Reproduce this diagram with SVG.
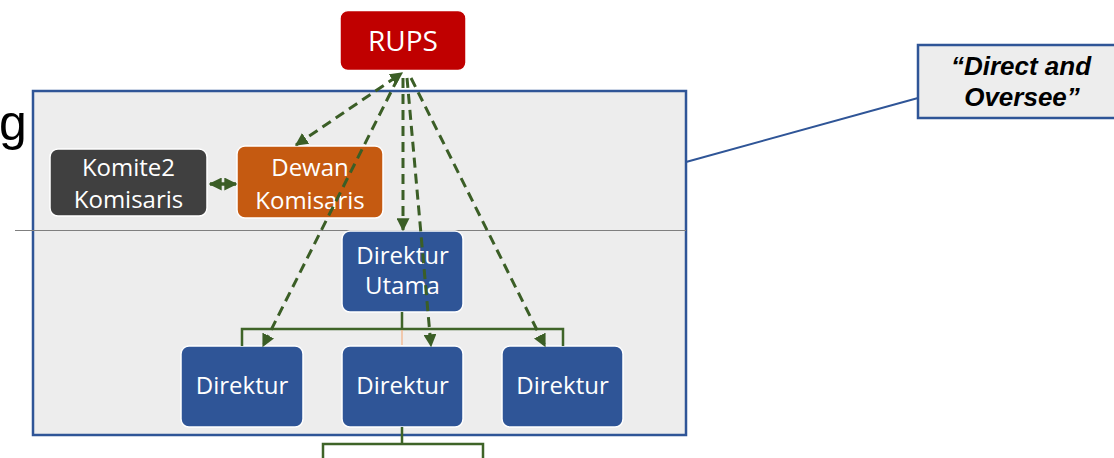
<svg xmlns="http://www.w3.org/2000/svg" width="1114" height="458" viewBox="0 0 1114 458">
<style>
.node text{font-family:"Open Sans","Liberation Sans",sans-serif;font-size:24px;fill:#fff;text-anchor:middle}
.box{stroke:#fff;stroke-width:1.5}
.dash{fill:none;stroke:#3B5E26;stroke-width:3;stroke-dasharray:10 6}
.tree{fill:none;stroke:#3F6428;stroke-width:2.5}
</style>
<defs>
<marker id="ah" viewBox="0 0 10 10" refX="9" refY="5" markerWidth="13" markerHeight="13" markerUnits="userSpaceOnUse" orient="auto-start-reverse">
<path d="M0,0 L10,5 L0,10 z" fill="#3B5E26"/>
</marker>
</defs>
<rect width="1114" height="458" fill="#fff"/>
<text x="-1" y="140" font-family="Liberation Sans, Arial, sans-serif" font-size="50" fill="#000">g</text>
<rect id="frame" x="33" y="91" width="653" height="344" fill="#EDEDED" stroke="#2F5597" stroke-width="2.5"/>
<line x1="15" y1="230.5" x2="686" y2="230.5" stroke="#7F7F7F" stroke-width="1.2"/>
<g id="rups" class="node"><rect class="box" x="340" y="10.5" width="126" height="60" rx="8" fill="#C00000"/><text x="403" y="51" style="font-size:28px">RUPS</text></g>
<g id="komite" class="node"><rect class="box" x="50" y="149" width="157" height="67" rx="8" fill="#404040"/><text x="128.5" y="176">Komite2</text><text x="128.5" y="208">Komisaris</text></g>
<g id="dewan" class="node"><rect class="box" x="237" y="146" width="146" height="72" rx="8" fill="#C55A11"/><text x="310" y="176">Dewan</text><text x="310" y="209">Komisaris</text></g>
<g id="dirut" class="node"><rect class="box" x="342" y="231" width="121" height="81" rx="8" fill="#2F5597"/><text x="402.5" y="264">Direktur</text><text x="402.5" y="294">Utama</text></g>
<g id="dir1" class="node"><rect class="box" x="181" y="346" width="122" height="81" rx="8" fill="#2F5597"/><text x="242" y="394">Direktur</text></g>
<g id="dir2" class="node"><rect class="box" x="342" y="346" width="121" height="81" rx="8" fill="#2F5597"/><text x="402.5" y="394">Direktur</text></g>
<g id="dir3" class="node"><rect class="box" x="502" y="346" width="121" height="81" rx="8" fill="#2F5597"/><text x="562.5" y="394">Direktur</text></g>
<g id="callout"><rect x="918" y="45" width="200" height="73" fill="#EDEDED" stroke="#2F5597" stroke-width="2.5"/>
<text font-family="Liberation Sans, Arial, sans-serif" font-size="26" font-weight="bold" font-style="italic" fill="#000" text-anchor="middle"><tspan x="1021" y="75">“Direct and</tspan><tspan x="1022" y="106">Oversee”</tspan></text></g>
<g id="connectors">
<path class="tree" d="M402,312 V329 M242,346 V329 H563 V346"/>
<line x1="402" y1="330" x2="402" y2="345" stroke="#F4B183" stroke-width="1.2"/>
<path class="tree" d="M402,427 V444 M323,458 V444 H483 V458"/>
<line class="dash" x1="296" y1="145" x2="402" y2="73" marker-start="url(#ah)" marker-end="url(#ah)"/>
<line class="dash" x1="398" y1="78" x2="263" y2="346" marker-end="url(#ah)"/>
<line class="dash" x1="403" y1="78" x2="403" y2="230" marker-end="url(#ah)"/>
<line class="dash" x1="407" y1="78" x2="431" y2="346" marker-end="url(#ah)"/>
<line class="dash" x1="411" y1="78" x2="545" y2="346" marker-end="url(#ah)"/>
<line x1="210" y1="184" x2="236" y2="184" stroke="#3B5E26" stroke-width="3.5" marker-start="url(#ah)" marker-end="url(#ah)"/>
<line x1="686" y1="162" x2="918" y2="98" stroke="#2F5597" stroke-width="2"/>
</g>
</svg>
